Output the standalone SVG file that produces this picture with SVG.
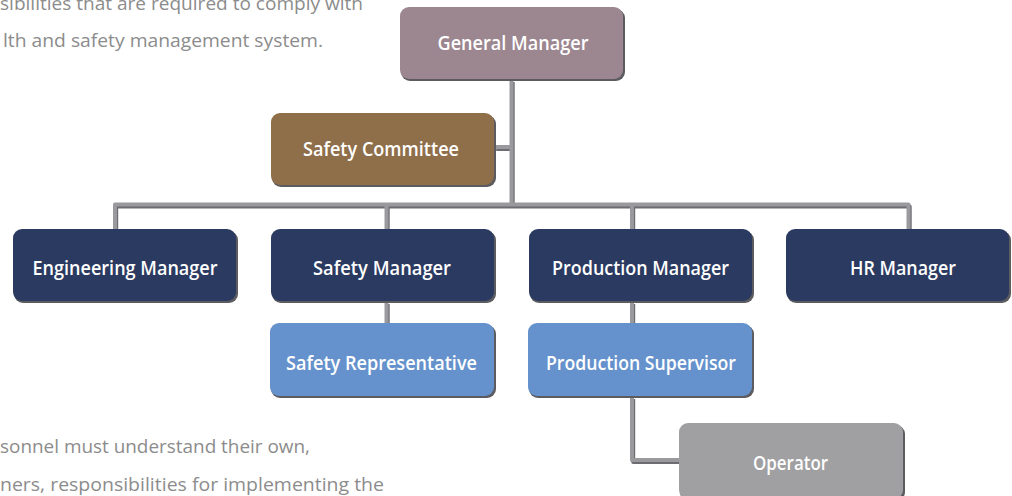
<svg xmlns="http://www.w3.org/2000/svg" xmlns:xlink="http://www.w3.org/1999/xlink" width="1012" height="496" viewBox="0 0 1012 496">
  <style>
    .body { font-family: "Open Sans", "Noto Sans", "Liberation Sans", sans-serif; font-size: 19px; fill: #8c8c8c; }
    .lbl { font-family: "Open Sans", "Noto Sans", "Liberation Sans", sans-serif; font-size: 20.5px; font-weight: 600; fill: #ffffff; text-anchor: middle; }
    .shadow { fill: #5c5c60; }
    .gm { fill: #9c8690; }
    .com { fill: #8f6e4a; }
    .mgr { fill: #2b3a60; }
    .sub { fill: #6592cc; }
    .op { fill: #a0a0a2; }
  </style>
  <defs>
    <!-- wire geometry; stroke colour comes from each use -->
    <g id="wires" fill="none" stroke-width="4" stroke-linejoin="round" stroke-linecap="butt">
      <path d="M511.5,80 V204.5"/>
      <path d="M495,147 H511.5"/>
      <path d="M115,229 V204.5 H908.5 V229"/>
      <path d="M386.5,204.5 V229"/>
      <path d="M632,204.5 V229"/>
      <path d="M386.5,302 V323"/>
      <path d="M632,302 V323"/>
      <path d="M632,397 V460 H679"/>
    </g>
  </defs>

  <!-- body copy -->
  <text class="body" x="0" y="10" textLength="363" lengthAdjust="spacingAndGlyphs">sibilities that are required to comply with</text>
  <text class="body" x="3" y="47" textLength="320" lengthAdjust="spacingAndGlyphs">lth and safety management system.</text>
  <text class="body" x="0" y="453" textLength="310" lengthAdjust="spacingAndGlyphs">sonnel must understand their own,</text>
  <text class="body" x="0" y="491" textLength="384" lengthAdjust="spacingAndGlyphs">ners, responsibilities for implementing the</text>

  <g id="connectors">
    <use xlink:href="#wires" stroke="#6c6c71" transform="translate(1.2,2)"/>
    <use xlink:href="#wires" stroke="#9a9a9e"/>
  </g>

  <g id="general-manager">
    <rect class="shadow" x="401" y="9" width="224" height="72" rx="9"/>
    <rect class="gm" x="400" y="7" width="223" height="72" rx="9"/>
    <text class="lbl" x="513" y="50" textLength="151" lengthAdjust="spacingAndGlyphs">General Manager</text>
  </g>

  <g id="safety-committee">
    <rect class="shadow" x="272" y="115" width="224" height="72" rx="9"/>
    <rect class="com" x="271" y="113" width="223" height="72" rx="9"/>
    <text class="lbl" x="381" y="156" textLength="156" lengthAdjust="spacingAndGlyphs">Safety Committee</text>
  </g>

  <g id="engineering-manager">
    <rect class="shadow" x="14" y="231" width="224" height="72" rx="9"/>
    <rect class="mgr" x="13" y="229" width="223" height="72" rx="9"/>
    <text class="lbl" x="125" y="275" textLength="185" lengthAdjust="spacingAndGlyphs">Engineering Manager</text>
  </g>

  <g id="safety-manager">
    <rect class="shadow" x="272" y="231" width="224" height="72" rx="9"/>
    <rect class="mgr" x="271" y="229" width="223" height="72" rx="9"/>
    <text class="lbl" x="382" y="275" textLength="138" lengthAdjust="spacingAndGlyphs">Safety Manager</text>
  </g>

  <g id="production-manager">
    <rect class="shadow" x="530" y="231" width="224" height="72" rx="9"/>
    <rect class="mgr" x="529" y="229" width="223" height="72" rx="9"/>
    <text class="lbl" x="640.5" y="275" textLength="177" lengthAdjust="spacingAndGlyphs">Production Manager</text>
  </g>

  <g id="hr-manager">
    <rect class="shadow" x="787" y="231" width="224" height="72" rx="9"/>
    <rect class="mgr" x="786" y="229" width="223" height="72" rx="9"/>
    <text class="lbl" x="903" y="275" textLength="106" lengthAdjust="spacingAndGlyphs">HR Manager</text>
  </g>

  <g id="safety-representative">
    <rect class="shadow" x="271" y="325" width="225" height="73" rx="9"/>
    <rect class="sub" x="270" y="323" width="224" height="73" rx="9"/>
    <text class="lbl" x="381.5" y="370" textLength="191" lengthAdjust="spacingAndGlyphs">Safety Representative</text>
  </g>

  <g id="production-supervisor">
    <rect class="shadow" x="529" y="325" width="225" height="73" rx="9"/>
    <rect class="sub" x="528" y="323" width="224" height="73" rx="9"/>
    <text class="lbl" x="641" y="370" textLength="190" lengthAdjust="spacingAndGlyphs">Production Supervisor</text>
  </g>

  <g id="operator">
    <rect class="shadow" x="680" y="425" width="225" height="76" rx="9"/>
    <rect class="op" x="679" y="423" width="224" height="76" rx="9"/>
    <text class="lbl" x="790.5" y="470" textLength="75" lengthAdjust="spacingAndGlyphs">Operator</text>
  </g>
</svg>
